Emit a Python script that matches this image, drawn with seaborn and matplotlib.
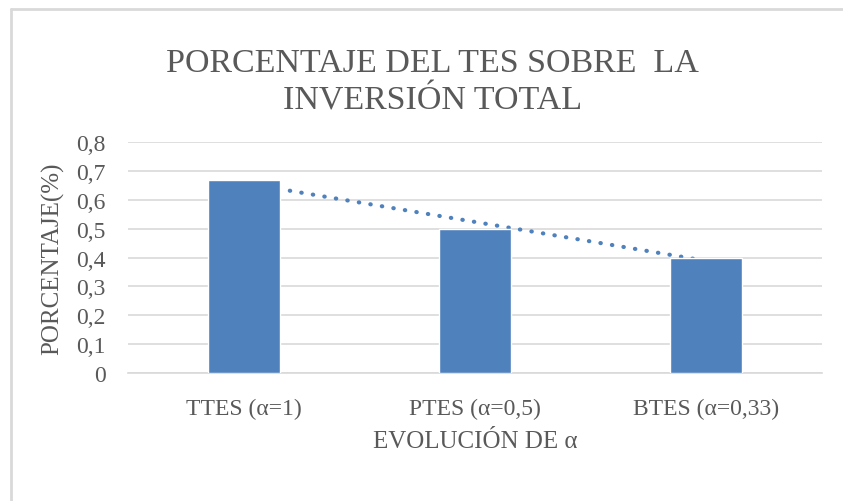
import numpy as np
import pandas as pd
import seaborn as sns
import matplotlib.pyplot as plt
from matplotlib.lines import Line2D

categorias = ['TTES (α=1)', 'PTES (α=0,5)', 'BTES (α=0,33)']
porcentaje = [0.67, 0.50, 0.40]
yticks = [0, 0.1, 0.2, 0.3, 0.4, 0.5, 0.6, 0.7, 0.8]
ytick_labels = ['0', '0,1', '0,2', '0,3', '0,4', '0,5', '0,6', '0,7', '0,8']

df = pd.DataFrame({'Categoria': categorias, 'Porcentaje': porcentaje})

sns.set_style('white')
plt.rcParams['font.family'] = ['Liberation Serif', 'DejaVu Serif']

gris = '#595959'
azul = '#4F81BD'

fig = plt.figure(figsize=(8.43, 5.02), dpi=100)
ax = fig.add_axes([0.152, 0.255, 0.823, 0.46])

sns.barplot(data=df, x='Categoria', y='Porcentaje', color=azul, width=0.31,
            saturation=1, ax=ax, zorder=3)

# linea de tendencia lineal (detras de las barras)
xs = np.arange(len(porcentaje))
m, b = np.polyfit(xs, porcentaje, 1)
ax.plot(xs, m * xs + b, color=azul, lw=3, dashes=(0.1, 2.7),
        dash_capstyle='round', solid_capstyle='round', zorder=2)

ax.set_xlim(-0.5, 2.5)
ax.set_ylim(0, 0.8)
ax.set_yticks(yticks)
ax.set_yticklabels(ytick_labels)
ax.yaxis.grid(True, color='#D9D9D9', lw=1.2, zorder=0)
ax.set_axisbelow(True)
for s in ['left', 'right', 'top']:
    ax.spines[s].set_visible(False)
ax.spines['bottom'].set_color('#D9D9D9')
ax.spines['bottom'].set_linewidth(1.2)
ax.tick_params(axis='y', length=0, pad=16, labelsize=17, labelcolor=gris)
ax.tick_params(axis='x', length=0, pad=18, labelsize=17, labelcolor=gris)

ax.set_xlabel('EVOLUCIÓN DE α', fontsize=18, color=gris, labelpad=8)
ax.set_ylabel('PORCENTAJE(%)', fontsize=18, color=gris, labelpad=9)

fig.text(0.513, 0.836, 'PORCENTAJE DEL TES SOBRE  LA\nINVERSIÓN TOTAL',
         ha='center', va='center', fontsize=24.5, color=gris, linespacing=1.3)

# marco del grafico
fig.add_artist(Line2D([11 / 843, 11 / 843], [0, 1 - 10 / 502],
                      color='#D9D9D9', lw=2, transform=fig.transFigure))
fig.add_artist(Line2D([11 / 843, 1], [1 - 10 / 502, 1 - 10 / 502],
                      color='#D9D9D9', lw=2, transform=fig.transFigure))

fig.savefig('out.png', dpi=100)
